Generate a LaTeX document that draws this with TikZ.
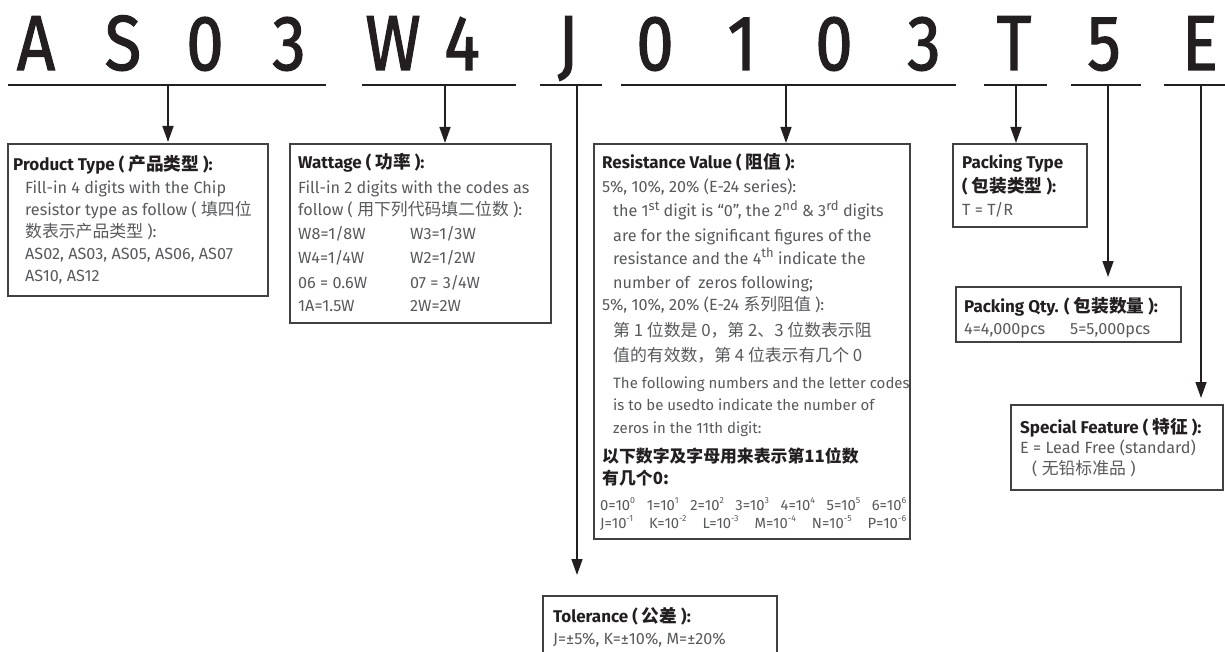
\documentclass[tikz,border=0pt]{standalone}
\usepackage{fontspec}
\setmainfont{Fira Sans}
\newfontfamily\cjk[Scale=1.04]{Noto Sans CJK SC}
\newfontfamily\bigfont[FakeBold=1.6]{Fira Sans}
\usetikzlibrary{arrows.meta,calc}
\definecolor{inkc}{HTML}{231F20}
\definecolor{bodyc}{HTML}{58595B}
\definecolor{linec}{HTML}{231F20}
\definecolor{boxc}{HTML}{414042}
\newcommand\zh[1]{{\cjk #1}}
\newcommand\hsup[1]{\raisebox{0.42em}{\fontsize{13}{13}\selectfont #1}}
\newcommand\ssup[1]{\raisebox{0.45em}{\fontsize{8.8}{8.8}\selectfont #1}}
\tikzset{
  box/.style={draw=boxc, line width=1.2pt, inner sep=0pt, outer sep=0pt, anchor=north west},
  body/.style={anchor=base west, inner sep=0pt, text=bodyc, font=\fontsize{16.2}{18}\selectfont},
  bodys/.style={anchor=base west, inner sep=0pt, text=bodyc, font=\fontsize{15}{18}\selectfont},
  small/.style={anchor=base west, inner sep=0pt, text=bodyc, font=\fontsize{14.8}{15}\selectfont},
  head/.style={anchor=base west, inner sep=0pt, text=inkc, font=\fontsize{17}{18}\selectfont\bfseries},
  big/.style={anchor=base, inner sep=0pt, text=inkc, font=\bigfont\fontsize{78}{80}\selectfont},
  uline/.style={draw=linec, line width=1.5pt},
  arr/.style={-{Triangle[length=16pt,width=11pt]}, line width=1.5pt, draw=linec},
}
\begin{document}
\begin{tikzpicture}[x=1pt,y=-1pt]
\useasboundingbox (0,0) rectangle (1225,652);
% big code letters
\foreach \ch/\x [count=\i] in {A/36,S/123,0/205,3/289,W/393,4/462,J/568,0/655,1/742,0/834,3/924,T/1014,5/1104,E/1200}
  \node[big] (L\i) at (\x,70) {\scalebox{0.86}[1]{\ch}};
% underlines
\draw[uline] (8,85) -- (326,85);
\draw[uline] (362,85) -- (516,85);
\draw[uline] (540,85) -- (602,85);
\draw[uline] (621,85) -- (956,85);
\draw[uline] (984,85) -- (1047,85);
\draw[uline] (1071,85) -- (1141,85);
\draw[uline] (1164,85) -- (1226,85);
% boxes
\node[box, minimum width=260pt, minimum height=152pt] (b1) at (8,144) {};
\node[box, minimum width=261pt, minimum height=179pt] (b2) at (290,144) {};
\node[box, minimum width=316pt, minimum height=395pt] (b3) at (594,144) {};
\node[box, minimum width=234pt, minimum height=70pt] (b4) at (543,596) {};
\node[box, minimum width=134pt, minimum height=83pt] (b5) at (953,144) {};
\node[box, minimum width=225pt, minimum height=55pt] (b6) at (956,287) {};
\node[box, minimum width=212pt, minimum height=85pt] (b7) at (1011,405) {};
% tick coordinates
\coordinate (t1) at (168,85);
\coordinate (t2) at (445,85);
\coordinate (t3) at (577,85);
\coordinate (t4) at (786,85);
\coordinate (t5) at (1016,85);
\coordinate (t6) at (1108,85);
\coordinate (t7) at (1201,85);
% arrows
\draw[arr, shorten >=2pt] (t1) -- (t1 |- b1.north);
\draw[arr, shorten >=1pt] (t2) -- (t2 |- b2.north);
\draw[arr, shorten >=21pt] (t3) -- (t3 |- b4.north);
\draw[arr, shorten >=1pt] (t4) -- (t4 |- b3.north);
\draw[arr, shorten >=1pt] (t5) -- (t5 |- b5.north);
\draw[arr, shorten >=10pt] (t6) -- (t6 |- b6.north);
\draw[arr, shorten >=7pt] (t7) -- (t7 |- b7.north);
% box 1
\node[head] (p0) at (13,171) {Product Type ( \zh{产品类型} ):};
\node[body] (p1) at (25,194) {Fill-in 4 digits with the Chip};
\node[body] (p2) at (25,216) {resistor type as follow ( \zh{填四位}};
\node[body] (p3) at (25,238) {\zh{数表示产品类型} ):};
\node[body] (p4) at (25,259) {AS02, AS03, AS05, AS06, AS07};
\node[body] (p5) at (25,281) {AS10, AS12};
% box 2
\node[head] (w0) at (298,169) {Wattage ( \zh{功率} ):};
\node[body] (w1) at (298,194) {Fill-in 2 digits with the codes as};
\node[body] (w2) at (298,216) {follow ( \zh{用下列代码填二位数} ):};
\node[body] (w3a) at (298,240) {W8=1/8W};
\node[body] (w3b) at (410,240) {W3=1/3W};
\node[body] (w4a) at (298,263) {W4=1/4W};
\node[body] (w4b) at (410,263) {W2=1/2W};
\node[body] (w5a) at (298,288) {06 = 0.6W};
\node[body] (w5b) at (410,288) {07 = 3/4W};
\node[body] (w6a) at (298,311) {1A=1.5W};
\node[body] (w6b) at (410,311) {2W=2W};
% box 3
\node[head] (r0) at (602,169) {Resistance Value ( \zh{阻值} ):};
\node[body] (r1) at (602,193) {5\%, 10\%, 20\% (E-24 series):};
\node[body] (r2) at (613,217) {the 1\hsup{st} digit is “0”, the 2\hsup{nd} \& 3\hsup{rd} digits};
\node[body] (r3) at (613,241) {are for the significant figures of the};
\node[body] (r4) at (613,264) {resistance and the 4\hsup{th} indicate the};
\node[body] (r5) at (613,288) {number of\ \ zeros following;};
\node[body] (r6) at (602,310) {5\%, 10\%, 20\% (E-24 \zh{系列阻值} ):};
\node[body] (r7) at (613,336) {\zh{第 1 位数是 0，第 2、3 位数表示阻}};
\node[body] (r8) at (613,361) {\zh{值的有效数，第 4 位表示有几个 0}};
\node[bodys] (r9) at (613,388) {The following numbers and the letter codes};
\node[bodys] (r10) at (613,410) {is to be usedto indicate the number of};
\node[bodys] (r11) at (613,433) {zeros in the 11th digit:};
\node[head, font=\fontsize{16.2}{18}\selectfont\bfseries] (r12) at (602,462) {\zh{以下数字及字母用来表示第11位数}};
\node[head, font=\fontsize{16.2}{18}\selectfont\bfseries] (r13) at (602,484) {\zh{有几个0:}};
\node[small] (r14) at (600,510) {\makebox[306pt][s]{0=10\ssup{0}\hfil 1=10\ssup{1}\hfil 2=10\ssup{2}\hfil 3=10\ssup{3}\hfil 4=10\ssup{4}\hfil 5=10\ssup{5}\hfil 6=10\ssup{6}}};
\node[small] (r15) at (600,528) {\makebox[306pt][s]{J=10\ssup{-1}\hfil K=10\ssup{-2}\hfil L=10\ssup{-3}\hfil M=10\ssup{-4}\hfil N=10\ssup{-5}\hfil P=10\ssup{-6}}};
% box 4
\node[head] (tl0) at (553,622) {Tolerance ( \zh{公差} ):};
\node[body] (tl1) at (553,644) {J=±5\%, K=±10\%, M=±20\%};
% box 5
\node[head] (k0) at (962,169) {Packing Type};
\node[head] (k1) at (962,193) {( \zh{包装类型} ):};
\node[body] (k2) at (962,216) {T = T/R};
% box 6
\node[head] (q0) at (964,312) {Packing Qty. ( \zh{包装数量} ):};
\node[body] (q1) at (964,334) {4=4,000pcs};
\node[body] (q2) at (1070,334) {5=5,000pcs};
% box 7
\node[head] (s0) at (1020,433) {Special Feature ( \zh{特征} ):};
\node[body] (s1) at (1020,453) {E = Lead Free (standard)};
\node[body] (s2) at (1032,474) {( \zh{无铅标准品} )};
\end{tikzpicture}
\end{document}
